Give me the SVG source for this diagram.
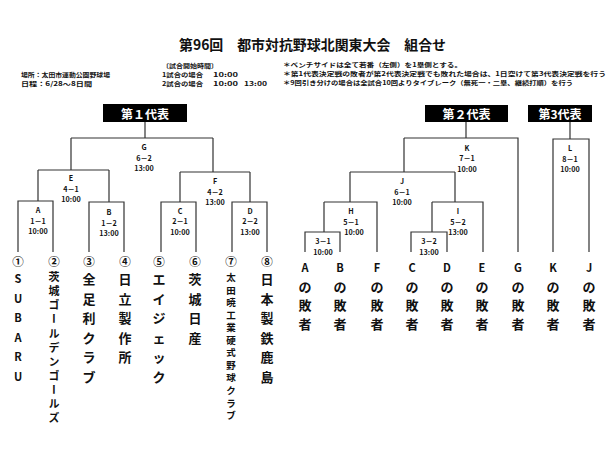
<svg xmlns="http://www.w3.org/2000/svg" width="616" height="458" viewBox="0 0 616 458">
<style>
text{font-family:"Noto Sans CJK JP","Noto Sans",sans-serif;font-weight:bold;fill:#111;}
.hd{font-size:6.2px;}
.ttl{font-size:14.2px;}
.rep{font-size:12px;fill:#fff;text-anchor:middle;dominant-baseline:central;}
.lb{font-size:7.2px;text-anchor:middle;dominant-baseline:central;}
.cn{font-size:11.5px;text-anchor:middle;dominant-baseline:central;}
.tm{font-size:13px;text-anchor:middle;dominant-baseline:central;}
.lt{font-size:11px;text-anchor:middle;dominant-baseline:central;}
.tv{font-size:11px;writing-mode:vertical-rl;letter-spacing:3.1px;}
.tx{font-size:9.5px;text-anchor:middle;dominant-baseline:central;}
.ln{fill:none;stroke:#333;stroke-width:1.2;}
</style>
<rect width="616" height="458" fill="#fff"/>
<g id="header">
<text class="ttl" x="179" y="50" textLength="267" lengthAdjust="spacingAndGlyphs">第96回　都市対抗野球北関東大会　組合せ</text>
<text class="hd" x="21" y="76.5" textLength="89" lengthAdjust="spacingAndGlyphs">場所：太田市運動公園野球場</text>
<text class="hd" x="21" y="85.5" textLength="71" lengthAdjust="spacingAndGlyphs">日程：6/28～8日間</text>
<text class="hd" x="162" y="67.5" textLength="56" lengthAdjust="spacingAndGlyphs">〔試合開始時間〕</text>
<text class="hd" x="162" y="76.5" textLength="41" lengthAdjust="spacingAndGlyphs">1試合の場合</text>
<text class="hd" x="213" y="76.5" textLength="25" lengthAdjust="spacingAndGlyphs">10:00</text>
<text class="hd" x="162" y="85.5" textLength="41" lengthAdjust="spacingAndGlyphs">2試合の場合</text>
<text class="hd" x="213" y="85.5" textLength="25" lengthAdjust="spacingAndGlyphs">10:00</text>
<text class="hd" x="244" y="85.5" textLength="23" lengthAdjust="spacingAndGlyphs">13:00</text>
<text class="hd" x="283" y="66.5" textLength="179" lengthAdjust="spacingAndGlyphs">＊ベンチサイドは全て若番（左側）を1塁側とする。</text>
<text class="hd" x="283" y="75.5" textLength="323" lengthAdjust="spacingAndGlyphs">＊第1代表決定戦の敗者が第2代表決定戦でも敗れた場合は、1日空けて第3代表決定戦を行う</text>
<text class="hd" x="283" y="84.5" textLength="290" lengthAdjust="spacingAndGlyphs">＊9回引き分けの場合は全試合10回よりタイブレーク（無死一・二塁、継続打順）を行う</text>
</g>
<g id="connectors">
<path class="ln" d="M145,122V138M71,138H213M71,138V170M213,138V172M38,170H109M38,170V201M109,170V202M18,252V201H53V252M89,252V202H124V252M180,172H250M180,172V202M250,172V202M161,252V202H196V252M232,252V202H267V252"/>
<path class="ln" d="M466,122V138M404,138H518V252M404,138V172M350,172H455M350,172V202M455,172V202M324,202H377V252M324,202V232M305,252V232H340V252M432,202H483V252M432,202V232M411,252V232H447V252M570,122V139M553,252V139H589V252"/>
</g>
<g id="rep1"><rect x="103" y="104" width="84" height="18" fill="#000"/><text class="rep" x="145" y="113">第１代表</text></g>
<g id="rep2"><rect x="425" y="105" width="83" height="17" fill="#000"/><text class="rep" x="466.5" y="113.5">第２代表</text></g>
<g id="rep3"><rect x="528" y="105" width="64" height="17" fill="#000"/><text class="rep" x="560" y="113.5">第3代表</text></g>
<g id="match-G"><text class="lb" x="144" y="147">G</text><text class="lb" x="144" y="157.5">6－2</text><text class="lb" x="144" y="168">13:00</text></g>
<g id="match-E"><text class="lb" x="71" y="178">E</text><text class="lb" x="71" y="188.5">4－1</text><text class="lb" x="71" y="199">10:00</text></g>
<g id="match-F"><text class="lb" x="215" y="181">F</text><text class="lb" x="215" y="191.5">4－2</text><text class="lb" x="215" y="202">13:00</text></g>
<g id="match-A"><text class="lb" x="38" y="210">A</text><text class="lb" x="38" y="220.5">1－1</text><text class="lb" x="38" y="231">10:00</text></g>
<g id="match-B"><text class="lb" x="109" y="212">B</text><text class="lb" x="109" y="222.5">1－2</text><text class="lb" x="109" y="233">13:00</text></g>
<g id="match-C"><text class="lb" x="180" y="210.5">C</text><text class="lb" x="180" y="221">2－1</text><text class="lb" x="180" y="231.5">10:00</text></g>
<g id="match-D"><text class="lb" x="250" y="210.5">D</text><text class="lb" x="250" y="221">2－2</text><text class="lb" x="250" y="231.5">13:00</text></g>
<g id="match-K"><text class="lb" x="467" y="147.5">K</text><text class="lb" x="467" y="158">7－1</text><text class="lb" x="467" y="168.5">10:00</text></g>
<g id="match-L"><text class="lb" x="570" y="148">L</text><text class="lb" x="570" y="158.5">8－1</text><text class="lb" x="570" y="169">10:00</text></g>
<g id="match-J"><text class="lb" x="402" y="181">J</text><text class="lb" x="402" y="191.5">6－1</text><text class="lb" x="402" y="202">10:00</text></g>
<g id="match-H"><text class="lb" x="351" y="211">H</text><text class="lb" x="351" y="221.5">5－1</text><text class="lb" x="354" y="232">10:00</text></g>
<g id="match-I"><text class="lb" x="458" y="211">I</text><text class="lb" x="458" y="221.5">5－2</text><text class="lb" x="458" y="232">13:00</text></g>
<g id="match-31"><text class="lb" x="323" y="241">3－1</text><text class="lb" x="323" y="251.5">10:00</text></g>
<g id="match-32"><text class="lb" x="429" y="241">3－2</text><text class="lb" x="429" y="251.5">13:00</text></g>
<g id="team-1"><text class="cn" x="18" y="261">①</text><text class="lt" x="18"><tspan x="18" y="278">S</tspan><tspan x="18" y="297.5">U</tspan><tspan x="18" y="317">B</tspan><tspan x="18" y="336.5">A</tspan><tspan x="18" y="356">R</tspan><tspan x="18" y="375.5">U</tspan></text></g>
<g id="team-2"><text class="cn" x="54" y="261">②</text><text class="tv" x="54" y="271.5">茨城ゴールデンゴールズ</text></g>
<g id="team-3"><text class="cn" x="89" y="261">③</text><text class="tm" x="89"><tspan x="89" y="278">全</tspan><tspan x="89" y="297.5">足</tspan><tspan x="89" y="317">利</tspan><tspan x="89" y="336.5">ク</tspan><tspan x="89" y="356">ラ</tspan><tspan x="89" y="375.5">ブ</tspan></text></g>
<g id="team-4"><text class="cn" x="125" y="261">④</text><text class="tm" x="125"><tspan x="125" y="278">日</tspan><tspan x="125" y="297.5">立</tspan><tspan x="125" y="317">製</tspan><tspan x="125" y="336.5">作</tspan><tspan x="125" y="356">所</tspan></text></g>
<g id="team-5"><text class="cn" x="159" y="261">⑤</text><text class="tm" x="159"><tspan x="159" y="278">エ</tspan><tspan x="159" y="297.5">イ</tspan><tspan x="159" y="317">ジ</tspan><tspan x="159" y="336.5">ェ</tspan><tspan x="159" y="356">ッ</tspan><tspan x="159" y="375.5">ク</tspan></text></g>
<g id="team-6"><text class="cn" x="195" y="261">⑥</text><text class="tm" x="195"><tspan x="195" y="278">茨</tspan><tspan x="195" y="297.5">城</tspan><tspan x="195" y="317">日</tspan><tspan x="195" y="336.5">産</tspan></text></g>
<g id="team-7"><text class="cn" x="231" y="261">⑦</text><text class="tx" x="231"><tspan x="231" y="277">太</tspan><tspan x="231" y="289.5">田</tspan><tspan x="231" y="302.1">暁</tspan><tspan x="231" y="314.6">工</tspan><tspan x="231" y="327.2">業</tspan><tspan x="231" y="339.7">硬</tspan><tspan x="231" y="352.3">式</tspan><tspan x="231" y="364.8">野</tspan><tspan x="231" y="377.4">球</tspan><tspan x="231" y="389.9">ク</tspan><tspan x="231" y="402.5">ラ</tspan><tspan x="231" y="415">ブ</tspan></text></g>
<g id="team-8"><text class="cn" x="267" y="261">⑧</text><text class="tm" x="267"><tspan x="267" y="278">日</tspan><tspan x="267" y="297.5">本</tspan><tspan x="267" y="317">製</tspan><tspan x="267" y="336.5">鉄</tspan><tspan x="267" y="356">鹿</tspan><tspan x="267" y="375.5">島</tspan></text></g>
<g id="loser-A"><text class="lt" x="305" y="267">A</text><text class="tm" x="305"><tspan x="305" y="285.5">の</tspan><tspan x="305" y="304">敗</tspan><tspan x="305" y="322.5">者</tspan></text></g>
<g id="loser-B"><text class="lt" x="340" y="267">B</text><text class="tm" x="340"><tspan x="340" y="285.5">の</tspan><tspan x="340" y="304">敗</tspan><tspan x="340" y="322.5">者</tspan></text></g>
<g id="loser-F"><text class="lt" x="377" y="267">F</text><text class="tm" x="377"><tspan x="377" y="285.5">の</tspan><tspan x="377" y="304">敗</tspan><tspan x="377" y="322.5">者</tspan></text></g>
<g id="loser-C"><text class="lt" x="412" y="267">C</text><text class="tm" x="412"><tspan x="412" y="285.5">の</tspan><tspan x="412" y="304">敗</tspan><tspan x="412" y="322.5">者</tspan></text></g>
<g id="loser-D"><text class="lt" x="447" y="267">D</text><text class="tm" x="447"><tspan x="447" y="285.5">の</tspan><tspan x="447" y="304">敗</tspan><tspan x="447" y="322.5">者</tspan></text></g>
<g id="loser-E"><text class="lt" x="482" y="267">E</text><text class="tm" x="482"><tspan x="482" y="285.5">の</tspan><tspan x="482" y="304">敗</tspan><tspan x="482" y="322.5">者</tspan></text></g>
<g id="loser-G"><text class="lt" x="518" y="267">G</text><text class="tm" x="518"><tspan x="518" y="285.5">の</tspan><tspan x="518" y="304">敗</tspan><tspan x="518" y="322.5">者</tspan></text></g>
<g id="loser-K"><text class="lt" x="553" y="267">K</text><text class="tm" x="553"><tspan x="553" y="285.5">の</tspan><tspan x="553" y="304">敗</tspan><tspan x="553" y="322.5">者</tspan></text></g>
<g id="loser-J"><text class="lt" x="589" y="267">J</text><text class="tm" x="589"><tspan x="589" y="285.5">の</tspan><tspan x="589" y="304">敗</tspan><tspan x="589" y="322.5">者</tspan></text></g>
</svg>
